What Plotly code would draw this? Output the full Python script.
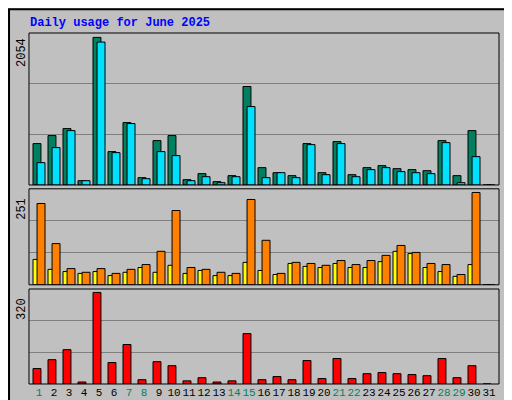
import plotly.graph_objects as go
from plotly.subplots import make_subplots

days = list(range(1, 32))
hits = [558, 666, 760, 58, 1989, 450, 841, 99, 598, 666, 72, 153, 45, 126, 1327, 234,
        166, 126, 558, 166, 585, 139, 234, 261, 220, 207, 193, 598, 126, 733, 0]
files = [301, 504, 733, 58, 1926, 436, 828, 85, 450, 396, 58, 112, 31, 112, 1057, 99,
         166, 99, 544, 139, 558, 112, 207, 234, 180, 166, 153, 571, 31, 382, 0]
visits = [69, 42, 36, 31, 36, 25, 34, 47, 34, 53, 31, 39, 25, 25, 61, 39,
          28, 58, 50, 47, 58, 47, 47, 63, 91, 85, 47, 36, 23, 55, 0]
sites = [221, 112, 44, 34, 44, 31, 42, 55, 91, 202, 47, 42, 34, 31, 232, 121,
         31, 61, 58, 53, 66, 55, 66, 80, 107, 88, 58, 55, 28, 251, 0]
kbytes = [54, 85, 120, 7, 320, 75, 138, 15, 78, 64, 11, 22, 7, 11, 176, 15,
          26, 15, 82, 19, 89, 19, 36, 40, 36, 33, 29, 89, 22, 64, 0]
weekend = [1, 7, 8, 14, 15, 21, 22, 28, 29]

mono = "Liberation Mono"
fig = make_subplots(rows=3, cols=1)

def bar(y, color, off, row):
    fig.add_trace(go.Bar(x=days, y=y, marker=dict(color=color, line=dict(color="black", width=1)),
                         offset=off, width=0.53, hoverinfo="skip"), row=row, col=1)

bar(hits, "#008060", -0.4, 1)
bar(files, "#00e0ff", -0.13, 1)
bar(visits, "#ffff00", -0.4, 2)
bar(sites, "#ff8000", -0.13, 2)
bar(kbytes, "#ff0000", -0.4, 3)

tops = [2048, 261, 332]
doms = [[0.5575, 0.9375], [0.308, 0.548], [0.06, 0.2975]]
for i in range(3):
    ax = "" if i == 0 else str(i + 1)
    fig.layout["yaxis" + ax].update(domain=doms[i], range=[0, tops[i]],
                                    tickvals=[tops[i] / 3, tops[i] * 2 / 3], showticklabels=False,
                                    gridcolor="#808080", zeroline=False, fixedrange=True)
    fig.layout["xaxis" + ax].update(domain=[0.041, 0.959], range=[0.333, 31.667],
                                    showgrid=False, zeroline=False, showticklabels=(i == 2),
                                    tickvals=days, tickangle=0,
                                    ticktext=[f"<span style='color:{'#008060' if d in weekend else 'black'}'>{d}</span>" for d in days],
                                    ticks="", tickfont=dict(family=mono, size=11, color="black"))

fig.update_layout(
    width=512, height=400, margin=dict(l=0, r=0, t=0, b=0),
    paper_bgcolor="#c0c0c0", plot_bgcolor="#c0c0c0", showlegend=False, barmode="overlay",
    font=dict(family=mono, size=12),
)

shapes = [dict(type="rect", xref="paper", yref="paper", x0=0.002, y0=0.003, x1=0.998, y1=0.997,
               line=dict(color="black", width=2))]
for d in doms:
    shapes.append(dict(type="rect", xref="paper", yref="paper", x0=0.041, x1=0.959, y0=d[0], y1=d[1],
                       line=dict(color="black", width=1)))
fig.update_layout(shapes=shapes)

anns = [dict(text="<b>Daily usage for June 2025</b>", x=20, y=15, xanchor="left",
             font=dict(color="#0000ff", size=12))]
for d, lab in zip(doms, ["2054", "251", "320"]):
    anns.append(dict(text=lab, x=14, y=(1 - d[1]) * 400 + 20, textangle=-90,
                     font=dict(color="black", size=12)))
right = [
    "<span style='color:#00e0ff'>Pages</span> / <span style='color:#0070ff'>Files</span> / <span style='color:#008060'>Hits</span>",
    "<span style='color:#00c040'>kB Out</span> <span style='color:#ff8000'>Sites</span> / <span style='color:#e0e000'>Visits</span>",
    "<span style='color:#ff0000'>kB F</span> / <span style='color:#0080ff'>kB In</span> / <span style='color:#00c040'>kB Out</span>",
]
for d, lab in zip(doms, right):
    anns.append(dict(text=lab, x=500, y=(1 - (d[0] + d[1]) / 2) * 400, textangle=90,
                     font=dict(color="black", size=11)))
for a in anns:
    a.update(xref="paper", yref="paper", showarrow=False)
    a["x"] = a["x"] / 512
    a["y"] = 1 - a["y"] / 400
    a.setdefault("xanchor", "center")
    a.setdefault("yanchor", "middle")
fig.update_layout(annotations=anns)

fig.write_html("out.html")
